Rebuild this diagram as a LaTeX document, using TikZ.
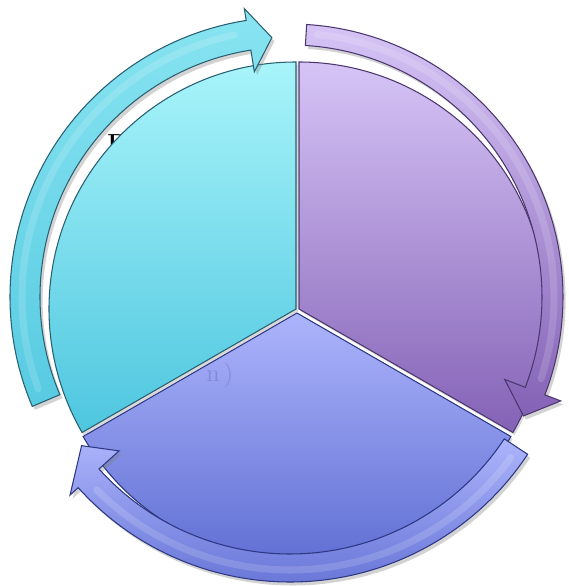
\documentclass[tikz,border=0pt]{standalone}
\usepackage{tikz}
\usepackage{xcolor}
\usetikzlibrary{shadows}

\definecolor{cyantop}{RGB}{168,244,250}
\definecolor{cyanbot}{RGB}{78,198,223}
\definecolor{purptop}{RGB}{214,196,246}
\definecolor{purpbot}{RGB}{132,98,182}
\definecolor{bluetop}{RGB}{172,180,251}
\definecolor{bluebot}{RGB}{86,102,206}
\definecolor{cyanedge}{RGB}{40,95,115}
\definecolor{purpedge}{RGB}{75,55,110}
\definecolor{blueedge}{RGB}{45,55,130}
\definecolor{ghostink}{RGB}{80,86,160}

\begin{document}
\begin{tikzpicture}[x=0.02cm, y=0.02cm,
    wedge/.style n args={3}{top color=#1, bottom color=#2, draw=#3, line width=0.6pt,
        drop shadow={opacity=0.3, shadow xshift=1pt, shadow yshift=-1.5pt}},
    band/.style n args={3}{top color=#1, bottom color=#2, draw=#3, line width=0.6pt,
        drop shadow={opacity=0.35, shadow xshift=1.5pt, shadow yshift=-2pt}},
    gloss/.style={white, opacity=0.15, line width=4pt, line cap=round}]
    \useasboundingbox (0,0) rectangle (569,586);

    % Label hidden behind the pie
    \node[anchor=north west, inner sep=0pt, font=\fontsize{14}{16}\selectfont\bfseries] (hidden) at (107,452) {P};

    % Sectors
    \begin{scope}[shift={(296,277)}]
        \shade[wedge={cyantop}{cyanbot}{cyanedge}] (0,0) -- (90:247) arc[start angle=90, end angle=210, radius=247] -- cycle;
    \end{scope}
    \begin{scope}[shift={(299,277)}]
        \shade[wedge={purptop}{purpbot}{purpedge}] (0,0) -- (-30:247) arc[start angle=-30, end angle=90, radius=247] -- cycle;
    \end{scope}
    \begin{scope}[shift={(297,273)}]
        \shade[wedge={bluetop}{bluebot}{blueedge}] (0,0) -- (210:247) arc[start angle=210, end angle=330, radius=247] -- cycle;
    \end{scope}

    % Faint label
    \node[anchor=base west, inner sep=0pt, text=ghostink, opacity=0.3, font=\fontsize{14}{16}\selectfont] (ghost) at (206,204) {n\,)};

    % Arrows
    \begin{scope}[shift={(290,289)}]
        \shade[band={cyantop!65!cyanbot}{cyanbot!90!cyantop}{cyanedge}] (203:250) arc[start angle=203, end angle=99, radius=250]
            -- (99:228) -- (94:260) -- (99:292) -- (99:280) arc[start angle=99, end angle=203, radius=280] -- cycle;
        \draw[gloss] (200:268) arc[start angle=200, end angle=102, radius=268];
        \shade[band={purptop}{purpbot}{purpedge}] (86.5:252) arc[start angle=86.5, end angle=-21, radius=252]
            -- (-21:230) -- (-27:262) -- (-21:290) -- (-21:273) arc[start angle=-21, end angle=86.5, radius=273] -- cycle;
        \draw[gloss] (84:264) arc[start angle=84, end angle=-18, radius=264];
        \shade[band={bluetop}{bluebot!85!bluetop}{blueedge}] (-33.5:257) arc[start angle=-33.5, end angle=-138, radius=257]
            -- (-138:230) -- (-144.5:256) -- (-138:296) -- (-138:285) arc[start angle=-138, end angle=-33.5, radius=285] -- cycle;
        \draw[gloss] (-36:273) arc[start angle=-36, end angle=-135, radius=273];
    \end{scope}
\end{tikzpicture}
\end{document}
